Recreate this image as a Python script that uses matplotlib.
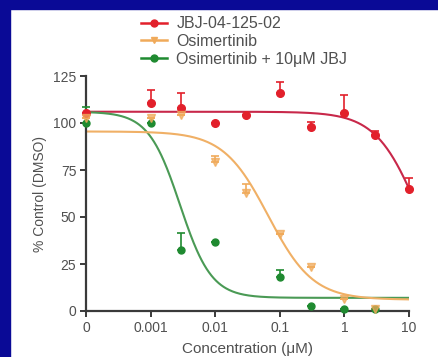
import numpy as np
import matplotlib
matplotlib.use("Agg")
import matplotlib.pyplot as plt
from matplotlib.patches import Rectangle

plt.rcParams['font.family'] = ['Liberation Sans', 'DejaVu Sans']

# "0" concentration is plotted one decade below 0.001
ZERO = 1e-4

# --- data ---
jbj_x = [ZERO, 0.001, 0.003, 0.01, 0.03, 0.1, 0.3, 1, 3, 10]
jbj_y = [105.5, 110.5, 107.8, 99.8, 104.3, 115.8, 98.0, 105.2, 93.6, 64.7]
jbj_err = [0, 7, 8, 0, 0, 6, 2.5, 9.5, 2, 6]

osi_x = [ZERO, 0.001, 0.003, 0.01, 0.03, 0.1, 0.3, 1, 3]
osi_y = [102.5, 102.5, 104.3, 79.4, 62.6, 41.0, 23.6, 6.4, 1.0]
osi_err = [0, 0, 0, 3, 5, 0, 0, 0, 0]

combo_x = [ZERO, 0.001, 0.003, 0.01, 0.1, 0.3, 1, 3]
combo_y = [100.0, 99.8, 32.4, 36.5, 17.9, 2.7, 1.0, 1.0]
combo_err = [8.5, 0, 9, 0, 4, 0, 0, 0]

# fitted 4-parameter logistic curves: (top, bottom, IC50, hill)
jbj_fit = (106.0, 0.0, 14.3, 1.3)
osi_fit = (95.5, 6.0, 0.066, 1.25)
combo_fit = (106.0, 7.0, 0.00285, 1.78)

labels = ["JBJ-04-125-02", "Osimertinib", "Osimertinib + 10\u03bcM JBJ"]
xticks = [ZERO, 0.001, 0.01, 0.1, 1, 10]
xtick_labels = ["0", "0.001", "0.01", "0.1", "1", "10"]
yticks = [0, 25, 50, 75, 100, 125]

RED, RED_LINE = "#e2202b", "#c8284a"
ORANGE, ORANGE_LINE = "#f0aa5a", "#f0b066"
GREEN, GREEN_LINE = "#1f8a30", "#4a9a55"
AX = "#3a3a3a"
TXT = "#505050"


def fourpl(x, p):
    top, bottom, ic50, hill = p
    return bottom + (top - bottom) / (1 + (x / ic50) ** hill)


fig = plt.figure(figsize=(4.39, 3.57), dpi=100)
fig.patch.set_facecolor("white")
# blue slide border (left and top)
fig.patches.append(Rectangle((0, 0), 10 / 439, 1, transform=fig.transFigure,
                             color="#0a0a96", zorder=0))
fig.patches.append(Rectangle((0, 1 - 9 / 357), 1, 9 / 357, transform=fig.transFigure,
                             color="#0a0a96", zorder=0))

ax = fig.add_axes([86 / 439, 46 / 357, 323 / 439, 235 / 357])
ax.set_xscale("log")
ax.set_xlim(ZERO, 10)
ax.set_ylim(0, 125)

xs = np.logspace(-4, 1, 400)
series = [
    (jbj_x, jbj_y, jbj_err, jbj_fit, RED, RED_LINE, "o", 5.5, 1.0),
    (combo_x, combo_y, combo_err, combo_fit, GREEN, GREEN_LINE, "o", 5.0, 1.0),
    (osi_x, osi_y, osi_err, osi_fit, ORANGE, ORANGE_LINE, "v", 5.5, 0.75),
]
handles = {}
for (x, y, e, fit, c, lc, m, ms, a), lab in zip(series, [labels[0], labels[2], labels[1]]):
    ax.plot(xs, fourpl(xs, fit), color=lc, lw=1.5, zorder=2)
    ax.errorbar(x, y, yerr=[np.zeros(len(e)), e], fmt="none", ecolor=c,
                elinewidth=1.2, capsize=3, capthick=1.2, zorder=3, clip_on=False)
    ax.plot(x, y, linestyle="none", marker=m, color=c, ms=ms, zorder=4,
            alpha=a, clip_on=False)
    h, = ax.plot([], [], color=c, marker=m, ms=5, lw=1.8, label=lab)
    handles[lab] = h

ax.set_xticks(xticks)
ax.set_xticklabels(xtick_labels)
ax.xaxis.set_minor_locator(matplotlib.ticker.NullLocator())
ax.set_yticks(yticks)
ax.tick_params(axis="both", direction="out", length=4, width=1.4, color=AX,
               labelsize=10, labelcolor=TXT, pad=3)
for s in ["top", "right"]:
    ax.spines[s].set_visible(False)
for s in ["left", "bottom"]:
    ax.spines[s].set_color(AX)
    ax.spines[s].set_linewidth(1.6)

ax.set_xlabel("Concentration (\u03bcM)", fontsize=11, color=TXT, labelpad=5)
ax.set_ylabel("% Control (DMSO)", fontsize=10, color=TXT, labelpad=4)

fig.legend(handles=[handles[l] for l in labels], loc="upper left",
           bbox_to_anchor=(138 / 439, 1 - 13 / 357),
           frameon=False, fontsize=11.5, labelcolor=TXT, handlelength=1.6,
           handletextpad=0.6, labelspacing=0.17, borderaxespad=0, borderpad=0.2)

fig.savefig("out.png", dpi=100)
